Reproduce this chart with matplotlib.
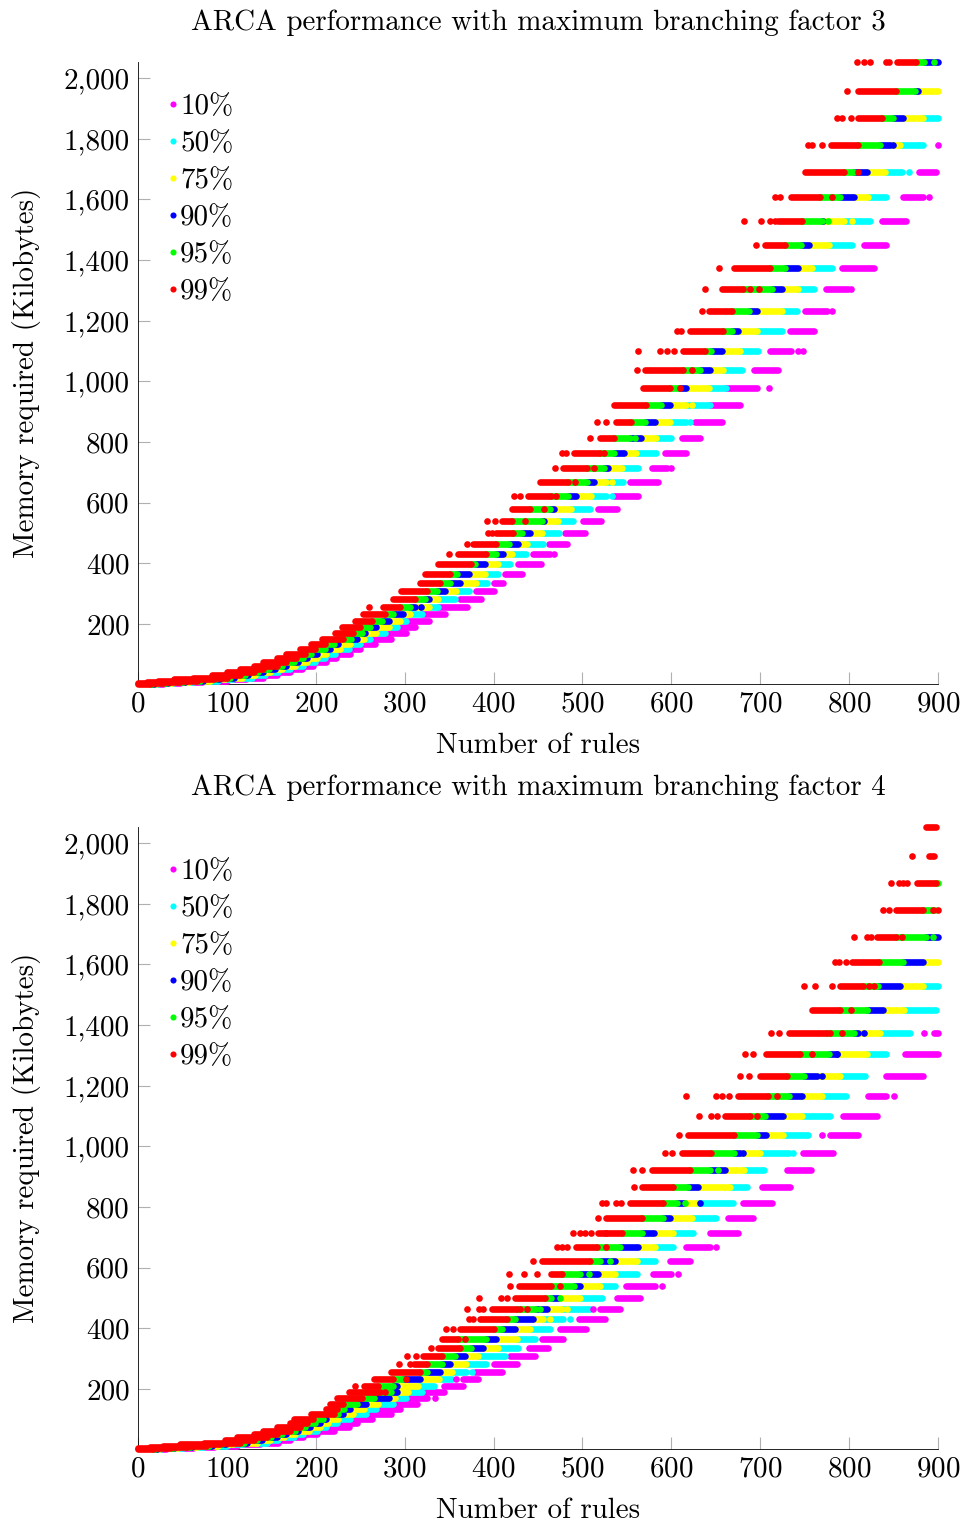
import matplotlib
matplotlib.use("Agg")
import matplotlib.pyplot as plt
from matplotlib.lines import Line2D
from matplotlib.ticker import FuncFormatter

plt.rcParams['font.family'] = ['cmr10', 'DejaVu Serif']
plt.rcParams['axes.formatter.use_mathtext'] = True

LEVELS = [2053,1958,1867,1778,1691,1609,1528,1450,1375,1303,1233,1166,1101,1038,979,922,867,813,763,713,667,623,580,539,501,465,430,397,366,336,308,281,256,233,211,190,170,151,134,117,102,88,75,63,51,42,32,23,17,12,8.6,5,2]
N = None

# Branching factor 3: x ranges per memory level
RED_START_3 = [854,810,810,780,750,735,720,705,670,657,642,621,613,570,568,535,538,520,490,478,452,439,421,409,403,377,360,338,323,317,296,287,276,253,244,229,222,207,195,182,167,156,141,130,115,100,83,62,40,23,10,0,0]
RED_END_3 = [875,853,837,810,794,767,747,728,711,681,668,658,638,613,598,571,555,535,520,505,484,465,441,421,422,403,392,375,351,340,325,312,295,278,263,250,242,231,210,199,188,178,167,156,141,130,115,100,85,66,47,28,14]
GREEN_END_3 = [884,874,849,835,805,790,769,746,728,713,687,668,645,632,609,588,570,553,535,524,505,484,463,454,432,417,403,379,359,351,336,323,306,287,274,261,252,240,220,210,195,186,175,162,147,135,120,104,88,70,51,32,16]
BLUE_END_3 = [900,878,861,846,820,805,771,755,743,724,696,675,657,643,617,599,582,566,547,529,513,493,468,457,441,428,411,390,372,362,345,327,312,298,282,268,255,246,225,216,201,190,180,167,154,141,124,108,92,73,53,34,18]
YELLOW_END_3 = [N,900,883,857,840,821,794,777,758,743,724,696,677,658,642,617,599,583,560,544,527,510,487,473,454,438,421,405,390,380,358,338,327,306,295,282,268,254,238,227,212,201,190,177,162,148,132,117,98,81,57,38,20]
CYAN_END_3 = [N,N,900,883,859,841,824,803,781,760,741,724,697,679,662,643,617,600,583,563,546,527,508,489,474,456,437,419,405,393,372,357,338,319,302,291,278,261,250,237,222,210,199,186,171,158,143,128,107,90,62,40,22]
MAG_START_3 = [N,N,N,N,879,861,837,817,792,774,750,733,711,693,662,643,627,612,593,578,553,535,518,501,480,462,444,428,413,400,380,362,338,319,302,291,278,261,250,237,222,210,199,186,171,158,143,128,107,90,62,40,22]
MAG_END_3 = [N,N,N,N,898,883,864,841,828,799,775,760,735,720,696,677,657,632,617,595,585,563,539,521,503,483,463,453,432,411,400,386,370,345,327,312,302,285,267,250,238,223,212,197,184,171,156,141,122,100,72,47,28]

RED_DOTS_3 = [(2053,809),(2053,817),(2053,823),(2053,842),(2053,845),(1958,798),(1867,786),(1867,792),(1867,802),(1778,754),(1778,758),(1778,769),(1691,810),(1609,717),(1609,722),(1609,781),(1528,682),(1528,701),(1528,711),(1528,717),(1450,695),(1375,654),(1303,638),(1303,689),(1303,699),(1233,634),(1166,606),(1166,611),(1101,562),(1101,587),(1101,595),(1101,603),(1038,561),(1038,623),(979,610),(867,516),(867,527),(813,508),(763,477),(763,482),(763,524),(713,469),(713,513),(667,492),(623,423),(623,430),(623,470),(580,457),(539,393),(539,402),(539,435),(501,394),(501,398),(465,370),(430,350),(256,260)]
GREEN_DOTS_3 = [(2053,895),(1528,776),(813,559)]
BLUE_DOTS_3 = [(1778,849),(256,318)]
YELLOW_DOTS_3 = [(1528,803),(922,623),(667,533)]
CYAN_DOTS_3 = [(1691,867),(867,621),(623,533)]
MAG_DOTS_3 = [(1778,900),(1609,890),(1303,802),(1233,781),(1101,742),(1101,748),(979,710),(713,600),(430,468)]

# Branching factor 4
RED_START_4 = [887,890,876,853,831,803,790,758,732,707,700,675,660,619,612,578,567,553,527,518,493,454,465,429,424,398,385,362,342,338,321,310,285,265,254,237,224,216,212,195,175,171,156,141,130,111,98,74,47,28,14,0,0]
RED_END_4 = [898,896,898,883,853,834,816,790,775,745,730,709,688,670,645,621,602,591,567,544,516,508,477,465,458,426,415,400,360,362,342,325,317,287,270,272,252,231,224,220,197,190,182,171,156,145,130,115,92,77,55,36,17]
GREEN_END_4 = [N,N,900,897,887,861,833,820,805,777,749,732,705,696,670,643,619,606,591,567,542,520,497,490,465,448,424,409,392,375,357,342,325,298,287,285,265,246,232,225,208,199,188,177,162,150,134,119,95,80,58,39,19]
BLUE_END_4 = [N,N,N,N,900,883,857,838,810,786,764,747,726,707,677,660,630,614,598,580,563,537,518,497,473,460,444,424,403,388,368,351,340,317,291,291,282,257,238,231,212,205,193,180,167,156,139,123,99,83,61,41,21]
YELLOW_END_4 = [N,N,N,N,N,900,883,862,835,820,790,769,747,726,700,682,666,629,623,602,582,561,537,520,497,477,456,441,426,405,383,369,353,339,315,304,289,270,254,242,225,214,205,192,177,164,148,134,107,90,66,45,24]
CYAN_END_4 = [N,N,N,N,N,N,900,898,868,842,818,797,778,754,732,704,685,669,650,624,602,582,561,537,522,508,478,463,447,428,413,392,369,353,333,319,302,287,268,257,238,224,212,201,186,175,158,145,118,100,74,51,26]
MAG_START_4 = [N,N,N,N,N,N,N,N,895,863,842,821,793,778,748,730,702,681,664,643,617,598,579,549,539,520,496,475,454,440,418,400,379,366,344,319,302,287,268,257,238,224,212,201,186,175,158,145,118,100,74,51,26]
MAG_END_4 = [N,N,N,N,N,N,N,N,900,900,883,842,831,810,782,757,733,713,692,675,643,621,600,582,565,542,525,504,478,461,447,426,409,383,366,344,325,314,295,285,263,246,237,220,201,186,171,158,137,111,85,62,32]

RED_DOTS_4 = [(1958,871),(1867,847),(1867,856),(1867,861),(1867,865),(1778,838),(1778,845),(1778,894),(1778,900),(1691,806),(1691,820),(1691,825),(1691,860),(1609,784),(1609,789),(1609,797),(1528,749),(1528,762),(1528,781),(1528,822),(1528,828),(1450,802),(1375,712),(1375,721),(1375,779),(1375,792),(1303,683),(1303,692),(1303,758),(1233,677),(1233,687),(1166,617),(1166,650),(1166,657),(1166,665),(1166,719),(1101,631),(1101,645),(1101,651),(1101,696),(1038,609),(979,593),(979,601),(922,557),(922,567),(867,558),(813,522),(813,526),(813,538),(813,543),(763,517),(713,489),(713,497),(713,503),(713,510),(713,527),(667,471),(667,477),(667,483),(667,527),(623,444),(580,417),(580,434),(580,449),(539,419),(539,475),(501,384),(501,408),(501,415),(465,370),(465,384),(465,388),(465,430),(465,438),(430,372),(430,377),(397,347),(397,354),(366,368),(336,330),(308,303),(308,313),(281,294),(281,306),(233,301),(211,244),(190,278)]
GREEN_DOTS_4 = [(1691,894),(1450,820),(922,653),(813,615),(623,531),(580,507),(501,475),(465,452)]
BLUE_DOTS_4 = [(1375,817),(1303,786),(1233,770),(979,681),(813,632)]
YELLOW_DOTS_4 = [(465,483),(430,463)]
CYAN_DOTS_4 = [(979,737),(430,486),(256,376)]
MAG_DOTS_4 = [(1375,884),(1166,850),(1038,770),(667,650),(580,608),(539,589),(465,512),(233,358),(170,334)]

LEGEND_LABELS = ['10%', '50%', '75%', '90%', '95%', '99%']
COLORS = {'10%': '#ff00ff', '50%': '#00ffff', '75%': '#ffff00', '90%': '#0000ff', '95%': '#00ff00', '99%': '#ff0000'}
XTICKS = [0, 100, 200, 300, 400, 500, 600, 700, 800, 900]
YTICKS = [200, 400, 600, 800, 1000, 1200, 1400, 1600, 1800, 2000]
TITLES = ['ARCA performance with maximum branching factor 3', 'ARCA performance with maximum branching factor 4']

W, H = 966, 1524
LW = 4.8
FS = 20.9
fig = plt.figure(figsize=(W / 100, H / 100), dpi=100)


def band(ax, starts, ends, color, z):
    rows = [(y, a, b) for y, a, b in zip(LEVELS, starts, ends, strict=True)
            if a is not None and b is not None and b > a]
    ax.hlines([r[0] for r in rows], [r[1] for r in rows], [r[2] for r in rows],
              colors=color, linewidth=LW, capstyle='round', clip_on=False, zorder=z)


def dots(ax, pts, color, z):
    ax.scatter([p[1] for p in pts], [p[0] for p in pts], s=LW ** 2, color=color,
               linewidths=0, clip_on=False, zorder=z)


def panel(top_px, title, r0, r1, g1, b1, y1, c1, m0, m1, dr, dg, db, dy, dc, dm):
    bottom_px = top_px + 622
    ax = fig.add_axes([138 / W, 1 - bottom_px / H, 800 / W, 622 / H])
    ax.set_xlim(0, 900)
    ax.set_ylim(2, 2053)
    band(ax, m0, m1, COLORS['10%'], 3.0)
    band(ax, y1, c1, COLORS['50%'], 3.1)
    band(ax, b1, y1, COLORS['75%'], 3.2)
    band(ax, g1, b1, COLORS['90%'], 3.3)
    band(ax, r1, g1, COLORS['95%'], 3.4)
    band(ax, r0, r1, COLORS['99%'], 3.5)
    dots(ax, dm, COLORS['10%'], 3.6)
    dots(ax, dc, COLORS['50%'], 3.7)
    dots(ax, dy, COLORS['75%'], 3.8)
    dots(ax, db, COLORS['90%'], 3.9)
    dots(ax, dg, COLORS['95%'], 4.0)
    dots(ax, dr, COLORS['99%'], 4.1)

    ax.spines['top'].set_visible(False)
    ax.spines['right'].set_visible(False)
    ax.spines['left'].set_linewidth(0.6)
    ax.spines['bottom'].set_linewidth(0.6)
    ax.set_xticks(XTICKS)
    ax.set_yticks(YTICKS)
    ax.yaxis.set_major_formatter(FuncFormatter(lambda v, _: f'{int(v):,}'))
    ax.tick_params(direction='in', length=8.4, width=0.8, color='#b0b0b0',
                   labelsize=FS, pad=6)
    ax.tick_params(axis='x', pad=5)
    for label in ax.get_yticklabels():
        label.set_va('center_baseline')
    for t in ax.xaxis.get_major_ticks() + ax.yaxis.get_major_ticks():
        t.tick1line.set_zorder(1)
    fig.text(538 / W, 1 - (top_px - 39) / H, title, ha='center', va='center', fontsize=FS)
    fig.text(538 / W, 1 - (top_px + 684) / H, 'Number of rules', ha='center', va='center', fontsize=FS)
    fig.text(26 / W, 1 - (top_px + 311) / H, 'Memory required (Kilobytes)', ha='center', va='center',
             rotation=90, fontsize=FS)
    handles = [Line2D([], [], linestyle='none', marker='o', markersize=4.4,
                      markeredgewidth=0, color=COLORS[k]) for k in LEGEND_LABELS]
    ax.legend(handles, LEGEND_LABELS, loc='upper left', bbox_to_anchor=(0.0323, 0.9485),
              frameon=False, fontsize=FS, borderpad=0, borderaxespad=0, labelspacing=0.363,
              handletextpad=-0.1, handlelength=0.66)


panel(62, TITLES[0], RED_START_3, RED_END_3, GREEN_END_3, BLUE_END_3, YELLOW_END_3, CYAN_END_3,
      MAG_START_3, MAG_END_3, RED_DOTS_3, GREEN_DOTS_3, BLUE_DOTS_3, YELLOW_DOTS_3, CYAN_DOTS_3, MAG_DOTS_3)
panel(827, TITLES[1], RED_START_4, RED_END_4, GREEN_END_4, BLUE_END_4, YELLOW_END_4, CYAN_END_4,
      MAG_START_4, MAG_END_4, RED_DOTS_4, GREEN_DOTS_4, BLUE_DOTS_4, YELLOW_DOTS_4, CYAN_DOTS_4, MAG_DOTS_4)

fig.savefig('out.png', dpi=100)
